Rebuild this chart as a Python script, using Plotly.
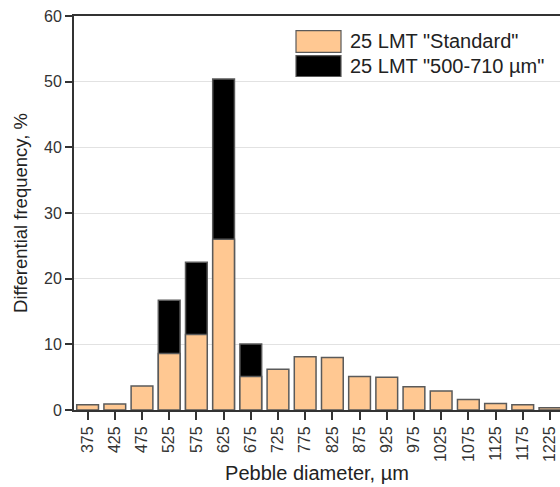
import plotly.graph_objects as go

# Pebble size classes (µm) and differential frequencies (%)
diameters = ["375", "425", "475", "525", "575", "625", "675", "725", "775",
             "825", "875", "925", "975", "1025", "1075", "1125", "1175", "1225"]
standard = [0.8, 0.9, 3.65, 8.6, 11.5, 26.0, 5.1, 6.2, 8.1,
            8.0, 5.1, 5.0, 3.55, 2.9, 1.6, 1.0, 0.8, 0.35]
sieved = [None, None, None, 16.7, 22.5, 50.4, 10.05, None, None,
          None, None, None, None, None, None, None, None, None]

name_standard = '25 LMT "Standard"'
name_sieved = '25 LMT "500-710 µm"'

orange = "#FFC892"
edge = "#5a5a5a"
font_family = "Arial, Liberation Sans, sans-serif"

fig = go.Figure()
fig.add_trace(go.Bar(x=diameters, y=sieved, name=name_sieved, width=0.8,
                     marker=dict(color="black", line=dict(color=edge, width=1.5)),
                     showlegend=False))
fig.add_trace(go.Bar(x=diameters, y=standard, name=name_standard, width=0.8,
                     marker=dict(color=orange, line=dict(color=edge, width=1.5)),
                     showlegend=False))

# Legend drawn as swatches with labels in paper coordinates
legend_items = [(name_standard, orange, 0.9627, 0.9079),
                (name_sieved, "black", 0.8992, 0.8464)]
for label, color, y_top, y_bot in legend_items:
    fig.add_shape(type="rect", xref="paper", yref="paper",
                  x0=0.4568, x1=0.5494, y0=y_bot, y1=y_top,
                  fillcolor=color, line=dict(color=edge, width=1.2))
    fig.add_annotation(xref="paper", yref="paper", x=0.5638, y=(y_top + y_bot) / 2,
                       text=label, showarrow=False, xanchor="left", yanchor="middle",
                       font=dict(family=font_family, size=20, color="#222"))

fig.update_layout(
    width=560, height=487,
    margin=dict(l=74, r=0, t=16, b=77),
    barmode="overlay",
    plot_bgcolor="white", paper_bgcolor="white",
    font=dict(family=font_family, color="#333"),
    xaxis=dict(
        type="category", range=[-0.5, 17.37],
        showline=True, linecolor="#333", linewidth=2, mirror=True,
        ticks="outside", ticklen=8, tickwidth=1.5, tickcolor="#333",
        tickangle=-90, tickfont=dict(size=16, color="#333"),
        title=dict(text="Pebble diameter, µm", font=dict(size=20, color="#222"), standoff=5),
        showgrid=False,
    ),
    yaxis=dict(
        range=[0, 60], dtick=10,
        showline=True, linecolor="#333", linewidth=2,
        ticks="outside", ticklen=7, tickwidth=1.5, tickcolor="#333",
        tickfont=dict(size=16, color="#333"),
        showgrid=True, gridcolor="#e2e2e2", gridwidth=1, zeroline=False,
        title=dict(text="Differential frequency, %", font=dict(size=18.5, color="#222"), standoff=12),
    ),
)

fig.write_html("out.html")
